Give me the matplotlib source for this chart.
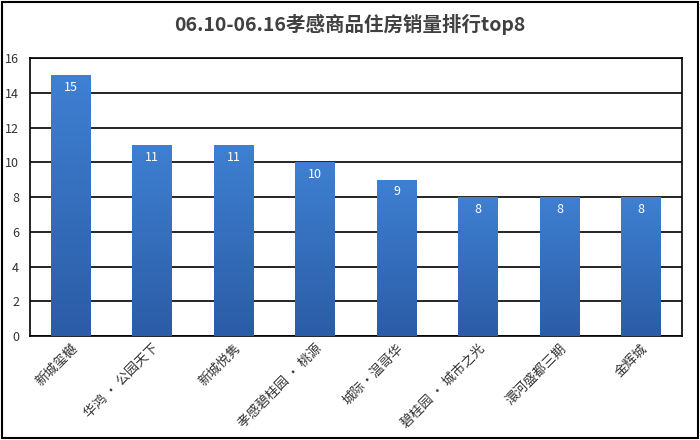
import numpy as np
import matplotlib
matplotlib.use("Agg")
import matplotlib.pyplot as plt
from matplotlib.patches import Rectangle

plt.rcParams['font.family'] = ['Noto Sans CJK SC', 'DejaVu Sans']

# ── Data ─────────────────────────────────────────────────────────────────────
TITLE = "06.10-06.16孝感商品住房销量排行top8"
projects = ["新城玺樾", "华鸿 · 公园天下", "新城悦隽", "孝感碧桂园 · 桃源",
            "城际•温哥华", "碧桂园 · 城市之光", "澴河盛都三期", "金辉城"]
sales = [15, 11, 11, 10, 9, 8, 8, 8]
yticks = [0, 2, 4, 6, 8, 10, 12, 14, 16]

# ── Figure ───────────────────────────────────────────────────────────────────
fig = plt.figure(figsize=(7, 4.4), dpi=100)
ax = fig.add_axes([0.043, 0.236, 0.931, 0.632])

x = np.arange(len(projects))
bars = ax.bar(x, sales, width=0.49, color="#3470c0", zorder=3)

# vertical gradient fill for each bar
grad = np.linspace(0, 1, 256).reshape(-1, 1)
cmap = matplotlib.colors.LinearSegmentedColormap.from_list("b", ["#2b5ca6", "#3f80d2"])
for b in bars:
    bx, by, bw, bh = b.get_x(), b.get_y(), b.get_width(), b.get_height()
    im = ax.imshow(grad, extent=[bx, bx + bw, by, by + bh], origin="lower",
                   cmap=cmap, aspect="auto", zorder=4)
    im.set_clip_path(b)

for xi, v in zip(x, sales):
    ax.text(xi, v - 0.7, str(v), ha="center", va="center", color="white",
            fontsize=9, zorder=5)

ax.set_xlim(-0.5, len(projects) - 0.5)
ax.set_ylim(0, 16)
ax.set_yticks(yticks)
ax.set_yticklabels([str(t) for t in yticks], fontsize=9, color="#333333")
ax.yaxis.grid(True, color="black", linewidth=1.2, zorder=1)
ax.tick_params(axis="y", length=0, pad=8)
ax.tick_params(axis="x", length=0, pad=4)
ax.set_xticks(x)
ax.set_xticklabels(projects, rotation=45, ha="right", rotation_mode="anchor",
                   fontsize=9.5, color="#333333")
for s in ax.spines.values():
    s.set_color("black")
    s.set_linewidth(1.2)

fig.text(0.5, 0.945, TITLE, ha="center", va="center", fontsize=14,
         fontweight="bold", color="#404040")

# outer frame
fig.patches.append(Rectangle((0.003, 0.004), 0.994, 0.992, transform=fig.transFigure,
                             fill=False, edgecolor="black", linewidth=1.5))

fig.savefig("out.png", dpi=100)
